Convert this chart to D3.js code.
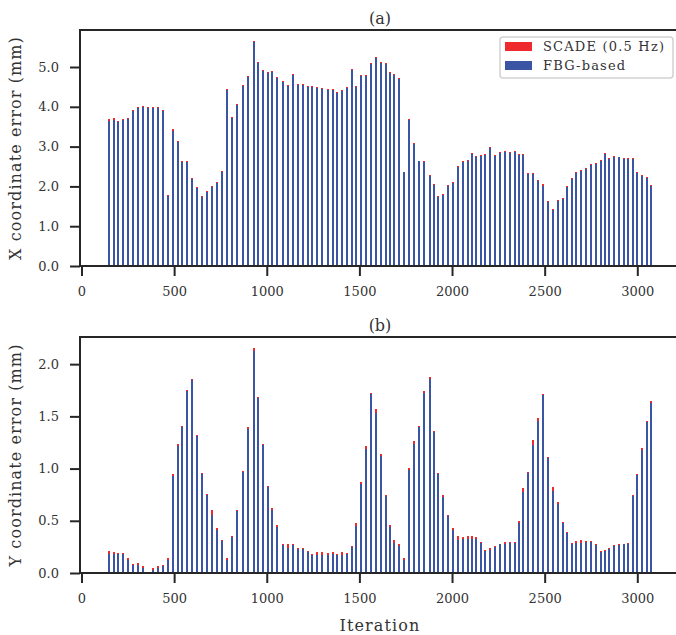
<!DOCTYPE html>
<html>
<head>
<meta charset="utf-8">
<script src="https://cdn.jsdelivr.net/npm/d3@7"></script>
<style>
  body { margin: 0; background: #fff; }
  text { font-family: "DejaVu Serif", serif; fill: #333; }
</style>
</head>
<body>
<div id="chart"></div>
<script>
(function() {
  // iteration of each bar
  const iterations = [
    148, 175, 197, 224, 251, 278, 305, 332, 359, 386, 413, 440, 467, 494, 521, 543,
    569, 596, 623, 650, 677, 704, 731, 758, 785, 812, 839, 872, 899, 929, 953, 980,
    1007, 1028, 1055, 1088, 1115, 1142, 1169, 1196, 1223, 1244, 1271, 1298, 1331, 1358,
    1379, 1406, 1433, 1460, 1482, 1509, 1536, 1563, 1590,
    1617, 1644, 1665, 1687, 1714, 1741, 1768, 1795, 1822, 1849, 1881, 1903, 1924, 1951,
    1978, 2005, 2032, 2059, 2086, 2108, 2129, 2156, 2178, 2205, 2232, 2259, 2286, 2313,
    2340, 2361, 2383, 2410, 2437, 2464, 2491, 2518, 2545, 2572, 2599, 2621, 2648, 2669,
    2696, 2723, 2750, 2777, 2804, 2826, 2847, 2874, 2901, 2928, 2950, 2977, 2998, 3025,
    3052, 3074
  ];

  // (a) X coordinate error (mm)
  const scadeX = [
    3.69, 3.72, 3.65, 3.69, 3.72, 3.92, 3.99, 4.02, 3.99, 3.99, 3.99, 3.92, 1.79, 3.43, 3.15, 2.64,
    2.64, 2.21, 1.98, 1.77, 1.88, 2.02, 2.11, 2.39, 4.45, 3.74, 4.08, 4.55, 4.77, 5.65, 5.13, 4.92,
    4.87, 4.90, 4.75, 4.65, 4.55, 4.82, 4.57, 4.57, 4.52, 4.52, 4.50, 4.47, 4.45, 4.45,
    4.37, 4.42, 4.50, 4.95, 4.52, 4.80, 4.80, 5.10, 5.25,
    5.12, 5.09, 4.87, 4.82, 4.72, 2.37, 3.69, 3.08, 2.65, 2.63, 2.28, 2.05, 1.76, 1.80,
    2.04, 2.10, 2.51, 2.64, 2.66, 2.83, 2.76, 2.79, 2.81, 2.98, 2.79, 2.86, 2.89, 2.86,
    2.88, 2.81, 2.81, 2.33, 2.33, 2.15, 2.05, 1.63, 1.43, 1.66, 1.70, 2.02, 2.20, 2.37,
    2.41, 2.46, 2.56, 2.59, 2.66, 2.84, 2.71, 2.76, 2.75, 2.72, 2.72, 2.72, 2.36, 2.29,
    2.24, 2.04
  ];
  const fbgX = [
    3.64, 3.68, 3.62, 3.66, 3.69, 3.89, 3.97, 3.99, 3.97, 3.97, 3.97, 3.89, 1.76, 3.40, 3.12, 2.61,
    2.62, 2.18, 1.96, 1.74, 1.86, 1.99, 2.08, 2.37, 4.43, 3.72, 4.05, 4.53, 4.74, 5.63, 5.10, 4.90,
    4.85, 4.88, 4.73, 4.63, 4.53, 4.79, 4.55, 4.54, 4.50, 4.49, 4.48, 4.45, 4.43, 4.42,
    4.34, 4.39, 4.48, 4.93, 4.50, 4.78, 4.78, 5.08, 5.23,
    5.10, 5.07, 4.85, 4.80, 4.70, 2.35, 3.67, 3.06, 2.63, 2.61, 2.26, 2.03, 1.73, 1.78,
    2.02, 2.08, 2.49, 2.62, 2.64, 2.81, 2.74, 2.77, 2.79, 2.96, 2.77, 2.84, 2.87, 2.84,
    2.86, 2.79, 2.78, 2.30, 2.31, 2.13, 2.02, 1.61, 1.41, 1.64, 1.68, 1.99, 2.18, 2.34,
    2.39, 2.44, 2.54, 2.57, 2.63, 2.82, 2.69, 2.74, 2.73, 2.70, 2.70, 2.70, 2.33, 2.27,
    2.21, 2.01
  ];

  // (b) Y coordinate error (mm)
  const scadeY = [
    0.21, 0.20, 0.19, 0.19, 0.14, 0.09, 0.10, 0.064, 0, 0.045, 0.064, 0.073, 0.14, 0.945, 1.24, 1.41,
    1.75, 1.86, 1.32, 0.96, 0.76, 0.60, 0.43, 0.32, 0.14, 0.35, 0.60, 0.98, 1.40, 2.15, 1.69, 1.24,
    0.83, 0.62, 0.46, 0.28, 0.275, 0.28, 0.236, 0.236, 0.21, 0.18, 0.20, 0.20, 0.19, 0.20,
    0.18, 0.20, 0.19, 0.255, 0.475, 0.87, 1.22, 1.72, 1.57,
    1.14, 0.75, 0.46, 0.32, 0.275, 0.14, 1.01, 1.26, 1.41, 1.74, 1.88, 1.36, 0.955, 0.75,
    0.56, 0.43, 0.35, 0.34, 0.35, 0.35, 0.34, 0.30, 0.22, 0.236, 0.255, 0.28, 0.30, 0.30,
    0.30, 0.50, 0.81, 0.97, 1.27, 1.48, 1.71, 1.11, 0.82, 0.68, 0.485, 0.39, 0.29, 0.31,
    0.32, 0.31, 0.31, 0.275, 0.21, 0.22, 0.236, 0.265, 0.28, 0.28, 0.29, 0.75, 0.945, 1.20,
    1.46, 1.65
  ];
  const fbgY = [
    0.18, 0.18, 0.18, 0.18, 0.125, 0.08, 0.08, 0.05, 0, 0.03, 0.05, 0.064, 0.128, 0.93, 1.22, 1.40,
    1.74, 1.85, 1.31, 0.95, 0.75, 0.56, 0.415, 0.31, 0.128, 0.34, 0.59, 0.97, 1.38, 2.13, 1.68, 1.23,
    0.82, 0.60, 0.44, 0.265, 0.236, 0.265, 0.227, 0.227, 0.20, 0.17, 0.17, 0.17, 0.17, 0.18,
    0.17, 0.17, 0.18, 0.246, 0.447, 0.85, 1.19, 1.71, 1.53,
    1.12, 0.74, 0.44, 0.29, 0.255, 0.128, 0.99, 1.24, 1.40, 1.72, 1.86, 1.35, 0.945, 0.73,
    0.55, 0.41, 0.32, 0.33, 0.33, 0.33, 0.33, 0.29, 0.21, 0.217, 0.246, 0.275, 0.28, 0.29,
    0.29, 0.476, 0.78, 0.96, 1.23, 1.46, 1.70, 1.10, 0.79, 0.66, 0.476, 0.38, 0.28, 0.29,
    0.29, 0.30, 0.30, 0.265, 0.20, 0.21, 0.227, 0.255, 0.265, 0.275, 0.275, 0.74, 0.935, 1.18,
    1.45, 1.63
  ];

  const xTicks = [0, 500, 1000, 1500, 2000, 2500, 3000];
  const yTicksA = [0, 1, 2, 3, 4, 5];
  const yTicksB = [0, 0.5, 1, 1.5, 2];
  const seriesNames = ["SCADE (0.5 Hz)", "FBG-based"];

  const red = "#ee2a2e";
  const blue = "#3b55a5";
  const ink = "#262626";

  const width = 676, height = 635;
  const left = 80, right = 680;

  const svg = d3.select("#chart").append("svg")
    .attr("width", width)
    .attr("height", height);

  const x = d3.scaleLinear().domain([0, 3000]).range([81.5, 637.3]);

  function drawPanel(top, bottom, scade, fbg, yMax, yTicks, yLabel, title) {
    const y = d3.scaleLinear().domain([0, yMax]).range([bottom, top]);
    const g = svg.append("g");

    const bars = g.append("g").attr("shape-rendering", "crispEdges");
    bars.selectAll("rect.scade")
      .data(iterations)
      .enter()
      .append("rect")
      .attr("class", "scade")
      .attr("x", d => Math.round(x(d)) - 1)
      .attr("width", 2)
      .attr("y", (d, i) => y(scade[i]))
      .attr("height", (d, i) => bottom - y(scade[i]))
      .attr("fill", red);
    bars.selectAll("rect.fbg")
      .data(iterations)
      .enter()
      .append("rect")
      .attr("class", "fbg")
      .attr("x", d => Math.round(x(d)) - 1)
      .attr("width", 2)
      .attr("y", (d, i) => y(fbg[i]))
      .attr("height", (d, i) => bottom - y(fbg[i]))
      .attr("fill", blue);

    const xAxis = g.append("g")
      .attr("transform", `translate(0,${bottom})`)
      .call(d3.axisBottom(x).tickValues(xTicks).tickFormat(d3.format("d"))
        .tickSize(10).tickPadding(11));
    xAxis.select(".domain").remove();
    xAxis.selectAll(".tick line").attr("stroke", ink).attr("stroke-width", 2);
    xAxis.selectAll(".tick text")
      .attr("font-family", "DejaVu Serif")
      .attr("font-size", 13)
      .attr("fill", "#333");

    const yAxis = g.append("g")
      .attr("transform", `translate(${left},0)`)
      .call(d3.axisLeft(y).tickValues(yTicks).tickFormat(d3.format(".1f"))
        .tickSize(10).tickPadding(11));
    yAxis.select(".domain").remove();
    yAxis.selectAll(".tick line").attr("stroke", ink).attr("stroke-width", 2);
    yAxis.selectAll(".tick text")
      .attr("font-family", "DejaVu Serif")
      .attr("font-size", 13)
      .attr("fill", "#333");

    // spines: left, top, bottom (right one falls outside the picture)
    g.append("path")
      .attr("d", `M${right},${top}H${left}V${bottom}H${right}`)
      .attr("fill", "none")
      .attr("stroke", ink)
      .attr("stroke-width", 2);

    g.append("text")
      .attr("transform", `translate(15,${(top + bottom) / 2}) rotate(-90)`)
      .attr("text-anchor", "middle")
      .attr("dy", "0.35em")
      .attr("font-size", 16)
      .attr("letter-spacing", 1.1)
      .text(yLabel);

    g.append("text")
      .attr("x", (left + right) / 2)
      .attr("y", top - 12)
      .attr("text-anchor", "middle")
      .attr("dy", "0.35em")
      .attr("font-size", 16)
      .text(title);
  }

  drawPanel(30, 266, scadeX, fbgX, 5.93, yTicksA, "X coordinate error (mm)", "(a)");
  drawPanel(337, 573, scadeY, fbgY, 2.26, yTicksB, "Y coordinate error (mm)", "(b)");

  svg.append("text")
    .attr("x", (left + right) / 2)
    .attr("y", 625)
    .attr("text-anchor", "middle")
    .attr("dy", "0.35em")
    .attr("font-size", 16)
    .attr("letter-spacing", 1.1)
    .text("Iteration");

  // legend
  const legend = svg.append("g").attr("transform", "translate(500,37)");
  legend.append("rect")
    .attr("width", 173)
    .attr("height", 41)
    .attr("rx", 3)
    .attr("fill", "#fff")
    .attr("fill-opacity", 0.8)
    .attr("stroke", "#d2d2d2")
    .attr("stroke-width", 1.5);
  const legendColors = [red, blue];
  legend.selectAll("rect.swatch")
    .data(seriesNames)
    .enter()
    .append("rect")
    .attr("class", "swatch")
    .attr("x", 5)
    .attr("y", (d, i) => 5 + i * 19)
    .attr("width", 27)
    .attr("height", 9)
    .attr("fill", (d, i) => legendColors[i]);
  legend.selectAll("text")
    .data(seriesNames)
    .enter()
    .append("text")
    .attr("x", 43)
    .attr("y", (d, i) => 9.5 + i * 19)
    .attr("dy", "0.35em")
    .attr("font-size", 13)
    .attr("letter-spacing", 1.2)
    .text(d => d);
})();
</script>
</body>
</html>
